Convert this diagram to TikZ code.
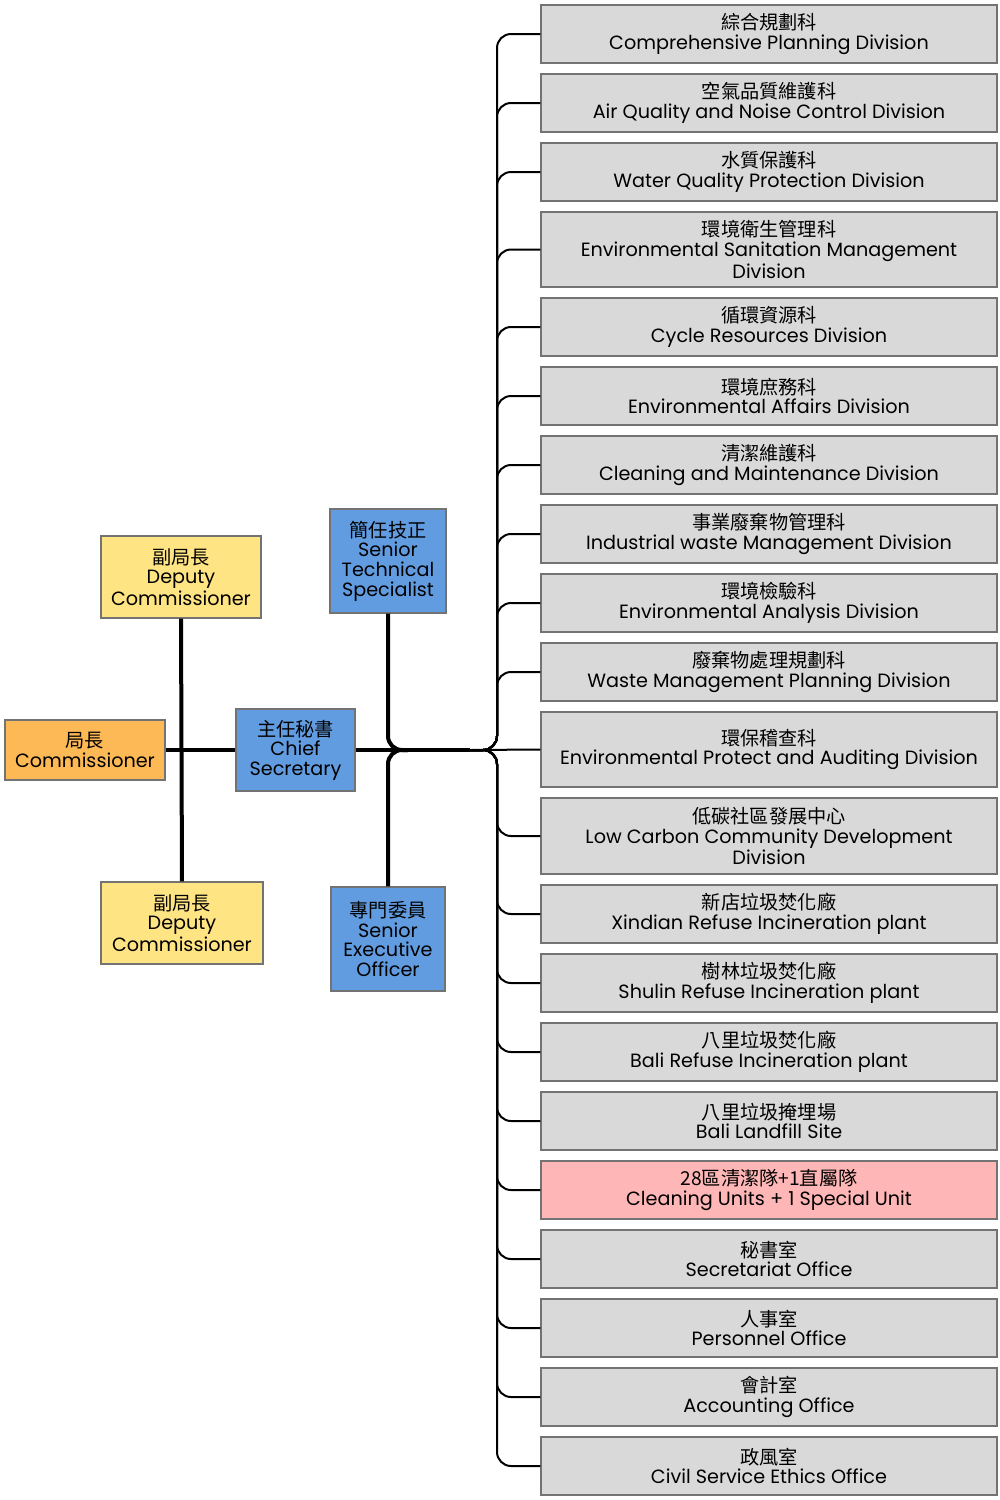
\documentclass[tikz,border=0pt]{standalone}
\usepackage{fontspec}
\setmainfont{Poppins}
\newfontfamily\cjk{Noto Sans CJK TC}
\usetikzlibrary{positioning}
\definecolor{unitgrey}{HTML}{D9D9D9}
\definecolor{unitpink}{HTML}{FFB6B6}
\definecolor{headorange}{HTML}{FDB956}
\definecolor{deputyyellow}{HTML}{FFE483}
\definecolor{staffblue}{HTML}{629CE0}
\tikzset{
  box/.style={draw=black!55, line width=0.6pt, align=center, inner sep=0pt,
    font=\fontsize{9.6}{9.8}\selectfont},
  unit/.style={box, minimum width=228pt, fill=unitgrey},
  chief/.style={line width=2pt},
  branch/.style={line width=1pt, rounded corners=7pt}
}
\begin{document}
\begin{tikzpicture}[x=0.5pt,y=-0.5pt]
  \useasboundingbox (0,0) rectangle (1000,1500);
  % head and deputies
  \node[box, fill=headorange, minimum width=80pt, minimum height=30pt] (head) at (85,750) {{\cjk 局長}\\Commissioner};
  \node[box, fill=deputyyellow, minimum width=80pt, minimum height=41pt] (dep1) at (181,577) {{\cjk 副局長}\\Deputy\\Commissioner};
  \node[box, fill=deputyyellow, minimum width=81pt, minimum height=41pt] (dep2) at (182,923) {{\cjk 副局長}\\Deputy\\Commissioner};
  % staff
  \node[box, fill=staffblue, minimum width=59.5pt, minimum height=41pt] (sec) at (295.5,750) {{\cjk 主任秘書}\\Chief\\Secretary};
  \node[box, fill=staffblue, minimum width=58pt, minimum height=52pt] (tech) at (388,561) {{\cjk 簡任技正}\\Senior\\Technical\\Specialist};
  \node[box, fill=staffblue, minimum width=57pt, minimum height=52pt] (exec) at (388,939) {{\cjk 專門委員}\\Senior\\Executive\\Officer};
  \coordinate (hub) at (470,750);
  \coordinate (trunk) at (497,750);
  \coordinate (stem) at (388,750);
  % thick connectors
  \draw[chief] (head.east) -- (sec.west);
  \draw[chief] (dep1.south) -- (dep2.north);
  \draw[chief] (sec.east) -- (hub);
  \draw[chief, rounded corners=7pt] (tech.south) -- (stem) -- ++(20,0);
  \draw[chief, rounded corners=7pt] (exec.north) -- (stem) -- ++(20,0);
  % divisions
  \foreach \t/\b/\c/\e/\f [count=\i] in {
    5/63/綜合規劃科/Comprehensive Planning Division/unitgrey,
    74/132/空氣品質維護科/Air Quality and Noise Control Division/unitgrey,
    143/201/水質保護科/Water Quality Protection Division/unitgrey,
    212/287/環境衛生管理科/{Environmental Sanitation Management\\Division}/unitgrey,
    298/356/循環資源科/Cycle Resources Division/unitgrey,
    367/425/環境庶務科/Environmental Affairs Division/unitgrey,
    436/494/清潔維護科/Cleaning and Maintenance Division/unitgrey,
    505/563/事業廢棄物管理科/Industrial waste Management Division/unitgrey,
    574/632/環境檢驗科/Environmental Analysis Division/unitgrey,
    643/701/廢棄物處理規劃科/Waste Management Planning Division/unitgrey,
    712/787/環保稽查科/Environmental Protect and Auditing Division/unitgrey,
    798/874/低碳社區發展中心/{Low Carbon Community Development\\Division}/unitgrey,
    885/943/新店垃圾焚化廠/Xindian Refuse Incineration plant/unitgrey,
    954/1012/樹林垃圾焚化廠/Shulin Refuse Incineration plant/unitgrey,
    1023/1081/八里垃圾焚化廠/Bali Refuse Incineration plant/unitgrey,
    1092/1150/八里垃圾掩埋場/Bali Landfill Site/unitgrey,
    1161/1219/28區清潔隊+1直屬隊/Cleaning Units + 1 Special Unit/unitpink,
    1230/1288/秘書室/Secretariat Office/unitgrey,
    1299/1357/人事室/Personnel Office/unitgrey,
    1368/1426/會計室/Accounting Office/unitgrey,
    1437/1495/政風室/Civil Service Ethics Office/unitgrey}
  {
    \node[unit, fill=\f, minimum height={(\b-\t)*0.5pt}] (u\i) at (769,{(\t+\b)/2}) {{\cjk \c}\\\e};
    \ifnum\i=11
      \draw[line width=1pt] (hub) -- (u\i.west);
    \else
      \draw[branch] (hub) -| (trunk |- u\i.west) -- (u\i.west);
    \fi
  }
\end{tikzpicture}
\end{document}
